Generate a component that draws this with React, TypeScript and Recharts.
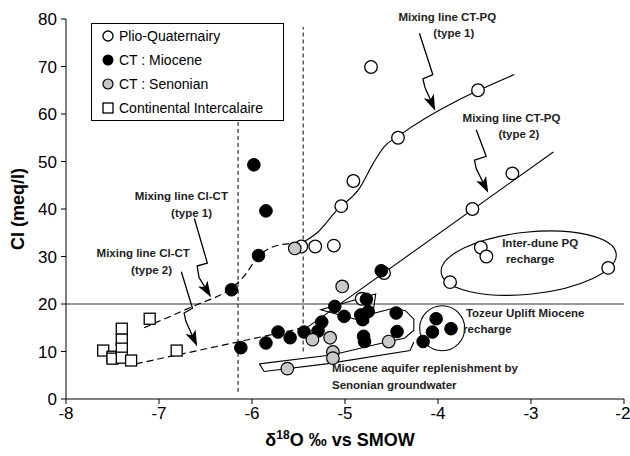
import React from 'react';
import { ScatterChart, Scatter, XAxis, YAxis, ReferenceLine, ReferenceDot, Legend } from 'recharts';

const FONT = '"Liberation Sans", Arial, sans-serif';

const xTicks = [-8, -7, -6, -5, -4, -3, -2];
const yTicks = [0, 10, 20, 30, 40, 50, 60, 70, 80];

// samples [δ18O, Cl]
const plioQuaternary = [
  [-4.72, 69.9], [-3.57, 65.0], [-4.43, 55.0], [-3.2, 47.5], [-4.91, 45.9], [-5.04, 40.6],
  [-3.63, 40.0], [-5.47, 32.1], [-5.32, 32.1], [-5.12, 32.3], [-3.54, 31.9], [-3.48, 30.0],
  [-2.17, 27.6], [-4.58, 26.5], [-3.87, 24.6], [-4.82, 21.1],
];
const ctMiocene = [
  [-5.98, 49.3], [-5.85, 39.6], [-5.93, 30.2], [-4.61, 27.0], [-6.22, 23.0], [-4.77, 21.0],
  [-5.11, 19.5], [-5.01, 17.4], [-4.83, 17.7], [-4.75, 18.4], [-4.81, 16.7], [-4.45, 18.1],
  [-5.25, 16.2], [-5.29, 14.3], [-5.44, 14.1], [-5.72, 14.1], [-5.59, 12.9], [-5.85, 11.8],
  [-6.12, 10.8], [-4.8, 13.2], [-4.79, 12.1], [-4.44, 14.2], [-4.02, 16.9], [-4.06, 14.1],
  [-3.86, 14.8], [-4.16, 12.1],
];
const ctSenonian = [
  [-5.54, 31.7], [-5.03, 23.7], [-5.35, 12.5], [-5.16, 12.9], [-4.53, 12.1], [-5.13, 9.9],
  [-5.13, 8.6], [-5.62, 6.4],
];
const continentalIntercalaire = [
  [-7.1, 16.9], [-7.6, 10.2], [-7.5, 8.9], [-7.5, 8.5], [-7.4, 14.8], [-7.4, 12.5],
  [-7.4, 10.6], [-7.4, 8.7], [-7.3, 8.1], [-6.81, 10.2],
];

// mixing lines
const mixCiCt1 = [[-7.16, 15.0], [-6.6, 19.8], [-6.28, 22.6], [-6.1, 25.5], [-5.93, 30.0], [-5.78, 32.0], [-5.56, 32.8]];
const mixCtPq1 = [[-5.47, 32.8], [-5.3, 35.0], [-5.09, 39.7], [-4.84, 44.5], [-4.7, 49.5], [-4.58, 53.1], [-4.43, 55.3], [-3.18, 68.3]];
const mixCiCt2 = [[-7.25, 7.4], [-5.49, 14.8]];
const mixCtPq2 = [[-5.44, 14.6], [-2.76, 52.0]];

// zig-zag arrows
const arrowCtPq1 = [[-4.2, 77.0], [-4.056, 68.3], [-4.163, 67.4], [-4.14, 65.6], [-4.03, 60.7]];
const arrowCtPq2 = [[-3.589, 56.7], [-3.482, 51.1], [-3.608, 50.3], [-3.589, 48.5], [-3.46, 43.4]];
const arrowCiCt1 = [[-6.62, 38.0], [-6.48, 28.6], [-6.59, 28.0], [-6.57, 25.6], [-6.44, 21.4]];
const arrowCiCt2 = [[-6.76, 26.8], [-6.64, 19.1], [-6.73, 18.1], [-6.71, 16.3], [-6.59, 11.1]];

// outlined groups
const mioceneOutline = [
  [-5.92, 7.4], [-5.13, 9.3], [-4.53, 12.1], [-4.36, 12.8], [-4.26, 14.5], [-4.26, 16.8], [-4.35, 18.6],
  [-4.48, 19.1], [-4.7, 18.0], [-4.67, 22.1], [-5.26, 18.8], [-4.74, 16.0],
];
const senonianBand = [[-5.92, 7.4], [-5.87, 5.8], [-5.2, 7.4], [-4.3, 10.2], [-4.26, 12.0]];

const centredNotes = [
  { text: 'Mixing line CT-PQ', x: -3.9, y: 80.5 },
  { text: '(type 1)', x: -3.83, y: 77.0 },
  { text: 'Mixing line CT-PQ', x: -3.21, y: 59.2 },
  { text: '(type 2)', x: -3.13, y: 55.7 },
  { text: 'Mixing line Cl-CT', x: -6.76, y: 42.7 },
  { text: '(type 1)', x: -6.65, y: 39.2 },
  { text: 'Mixing line Cl-CT', x: -7.17, y: 30.7 },
  { text: '(type 2)', x: -7.08, y: 27.2 },
];
const leftNotes = [
  { text: 'Inter-dune PQ', x: -3.31, y: 32.8 },
  { text: 'recharge', x: -3.27, y: 29.5 },
  { text: 'Tozeur Uplift Miocene', x: -3.7, y: 18.1 },
  { text: 'recharge', x: -3.73, y: 14.8 },
  { text: 'Miocene aquifer replenishment by', x: -5.14, y: 6.5 },
  { text: 'Senonian groundwater', x: -5.14, y: 3.0 },
];

const legendItems = ['Plio-Quaternairy', 'CT : Miocene', 'CT : Senonian', 'Continental Intercalaire'];

const pts = (a: number[][]) => a.map(([x, y]) => ({ x, y }));
const noDot = () => <g />;

const openDot = (p: any) => <circle cx={p.cx} cy={p.cy} r={6.3} fill="#fff" stroke="#000" strokeWidth={1.3} />;
const blackDot = (p: any) => <circle cx={p.cx} cy={p.cy} r={6.3} fill="#000" stroke="#000" strokeWidth={1} />;
const greyDot = (p: any) => <circle cx={p.cx} cy={p.cy} r={6.3} fill="#c8c8c8" stroke="#000" strokeWidth={1.2} />;
const square = (p: any) => <rect x={p.cx - 5.5} y={p.cy - 5.5} width={11} height={11} fill="#fff" stroke="#000" strokeWidth={1.3} />;

// polyline through the scaled points with a filled head on the last segment
function ArrowLine(props: any) {
  const p: { x: number; y: number }[] = props.points || [];
  if (p.length < 2) return <g />;
  const a = p[p.length - 2];
  const b = p[p.length - 1];
  const ang = Math.atan2(b.y - a.y, b.x - a.x);
  const len = 16;
  const half = 5.5;
  const c = Math.cos(ang);
  const s = Math.sin(ang);
  const bx = b.x - len * c;
  const by = b.y - len * s;
  const head = [
    [b.x, b.y],
    [bx + half * s, by - half * c],
    [b.x - (len - 4) * c, b.y - (len - 4) * s],
    [bx - half * s, by + half * c],
  ];
  const body = p.slice(0, -1).map((q) => `${q.x},${q.y}`).join(' ') + ` ${b.x - (len - 5) * c},${b.y - (len - 5) * s}`;
  return (
    <g>
      <polyline points={body} fill="none" stroke="#000" strokeWidth={1.3} strokeLinejoin="round" />
      <polygon points={head.map((h) => h.join(',')).join(' ')} fill="#000" />
    </g>
  );
}

function LegendBox() {
  const marks = [
    <circle cx={7} cy={7} r={5} fill="#fff" stroke="#000" strokeWidth={1.3} />,
    <circle cx={7} cy={7} r={5.5} fill="#000" />,
    <circle cx={7} cy={7} r={5} fill="#c8c8c8" stroke="#000" strokeWidth={1.2} />,
    <rect x={2} y={2} width={10} height={10} fill="#fff" stroke="#000" strokeWidth={1.3} />,
  ];
  return (
    <div style={{ position: 'relative', width: 193, height: 98, border: '1.5px solid #000', background: '#fff', boxSizing: 'border-box', fontFamily: FONT, fontSize: 14, color: '#000' }}>
      {legendItems.map((name, i) => (
        <div key={name} style={{ position: 'absolute', left: 9, top: 1 + i * 24, height: 22, display: 'flex', alignItems: 'center', whiteSpace: 'nowrap' }}>
          <svg width={14} height={14}>{marks[i]}</svg>
          <span style={{ marginLeft: 4 }}>{name}</span>
        </div>
      ))}
    </div>
  );
}

function XTitle({ viewBox }: any) {
  const cx = viewBox.x + viewBox.width / 2 - 5;
  return (
    <text x={cx} y={viewBox.y + 47} textAnchor="middle" fontFamily={FONT} fontWeight="bold" fontSize={18} fill="#000">
      δ<tspan fontSize={12} dy={-7}>18</tspan><tspan dy={7}>O ‰ vs SMOW</tspan>
    </text>
  );
}

function YTitle({ viewBox }: any) {
  const cy = viewBox.y + viewBox.height / 2;
  return (
    <text x={24} y={cy} transform={`rotate(-90 24 ${cy})`} textAnchor="middle" fontFamily={FONT} fontWeight="bold" fontSize={18} fill="#000">
      Cl (meq/l)
    </text>
  );
}

const noteStyle = { fontFamily: FONT, fontWeight: 'bold' as const, fontSize: 11.5, fill: '#222' };
const tick = { fontSize: 17, fill: '#000', fontFamily: FONT };
const lineStyle = { stroke: '#000', strokeWidth: 1.1 };
const dashStyle = { stroke: '#000', strokeWidth: 1.2, strokeDasharray: '7 4' };

export default function App() {
  return (
    <div style={{ position: 'absolute', left: 0, top: 0, background: '#fff' }}>
      <ScatterChart width={630} height={456} margin={{ top: 19, right: 6, bottom: 0, left: 0 }}>
        <XAxis type="number" dataKey="x" domain={[-8, -2]} ticks={xTicks} tick={tick} tickSize={5} tickMargin={3}
          axisLine={{ stroke: '#000' }} tickLine={{ stroke: '#000' }} height={57} allowDataOverflow label={<XTitle />} />
        <YAxis type="number" dataKey="y" domain={[0, 80]} ticks={yTicks} tick={tick} tickSize={5} tickMargin={4}
          axisLine={{ stroke: '#000' }} tickLine={{ stroke: '#000' }} width={66} allowDataOverflow label={<YTitle />} />
        <Legend content={<LegendBox />} layout="horizontal" verticalAlign="middle" align="center"
          wrapperStyle={{ position: 'absolute', left: 91, top: 23, width: 193, height: 98 }} />

        <ReferenceLine y={20} stroke="#333" strokeWidth={1.2} />
        <ReferenceLine segment={[{ x: -6.15, y: 1.5 }, { x: -6.15, y: 58.6 }]} stroke="#000" strokeWidth={1} strokeDasharray="4 3" />
        <ReferenceLine segment={[{ x: -5.45, y: 10 }, { x: -5.45, y: 78.3 }]} stroke="#000" strokeWidth={1} strokeDasharray="4 3" />

        <ReferenceDot x={-3.025} y={28.6} r={1} ifOverflow="visible"
          shape={(p: any) => <ellipse cx={p.cx} cy={p.cy} rx={88} ry={31} transform={`rotate(-6 ${p.cx} ${p.cy})`} fill="none" stroke="#000" strokeWidth={1.1} />} />
        <ReferenceDot x={-3.955} y={14.9} r={1} ifOverflow="visible"
          shape={(p: any) => <circle cx={p.cx} cy={p.cy} r={22.5} fill="none" stroke="#000" strokeWidth={1.1} />} />

        <Scatter data={pts(mioceneOutline)} shape={noDot} line={lineStyle} lineType="joint" isAnimationActive={false} />
        <Scatter data={pts(senonianBand)} shape={noDot} line={lineStyle} lineType="joint" isAnimationActive={false} />

        <Scatter data={pts(mixCiCt1)} shape={noDot} line={dashStyle} lineType="joint" lineJointType="monotoneX" isAnimationActive={false} />
        <Scatter data={pts(mixCtPq1)} shape={noDot} line={lineStyle} lineType="joint" lineJointType="monotoneX" isAnimationActive={false} />
        <Scatter data={pts(mixCiCt2)} shape={noDot} line={dashStyle} lineType="joint" isAnimationActive={false} />
        <Scatter data={pts(mixCtPq2)} shape={noDot} line={lineStyle} lineType="joint" isAnimationActive={false} />

        {[arrowCtPq1, arrowCtPq2, arrowCiCt1, arrowCiCt2].map((a, i) => (
          <Scatter key={'arrow' + i} data={pts(a)} shape={noDot} line={ArrowLine} lineType="joint" isAnimationActive={false} />
        ))}

        <Scatter name="Plio-Quaternairy" data={pts(plioQuaternary)} shape={openDot} isAnimationActive={false} />
        <Scatter name="Continental Intercalaire" data={pts(continentalIntercalaire)} shape={square} isAnimationActive={false} />
        <Scatter name="CT : Miocene" data={pts(ctMiocene)} shape={blackDot} isAnimationActive={false} />
        <Scatter name="CT : Senonian" data={pts(ctSenonian)} shape={greyDot} isAnimationActive={false} />

        {centredNotes.map((n, i) => (
          <ReferenceDot key={'cn' + i} x={n.x} y={n.y} r={1} ifOverflow="visible"
            shape={(p: any) => <text x={p.cx} y={p.cy} dy="0.35em" textAnchor="middle" {...noteStyle}>{n.text}</text>} />
        ))}
        {leftNotes.map((n, i) => (
          <ReferenceDot key={'ln' + i} x={n.x} y={n.y} r={1} ifOverflow="visible"
            shape={(p: any) => <text x={p.cx} y={p.cy} dy="0.35em" textAnchor="start" {...noteStyle}>{n.text}</text>} />
        ))}
      </ScatterChart>
    </div>
  );
}
